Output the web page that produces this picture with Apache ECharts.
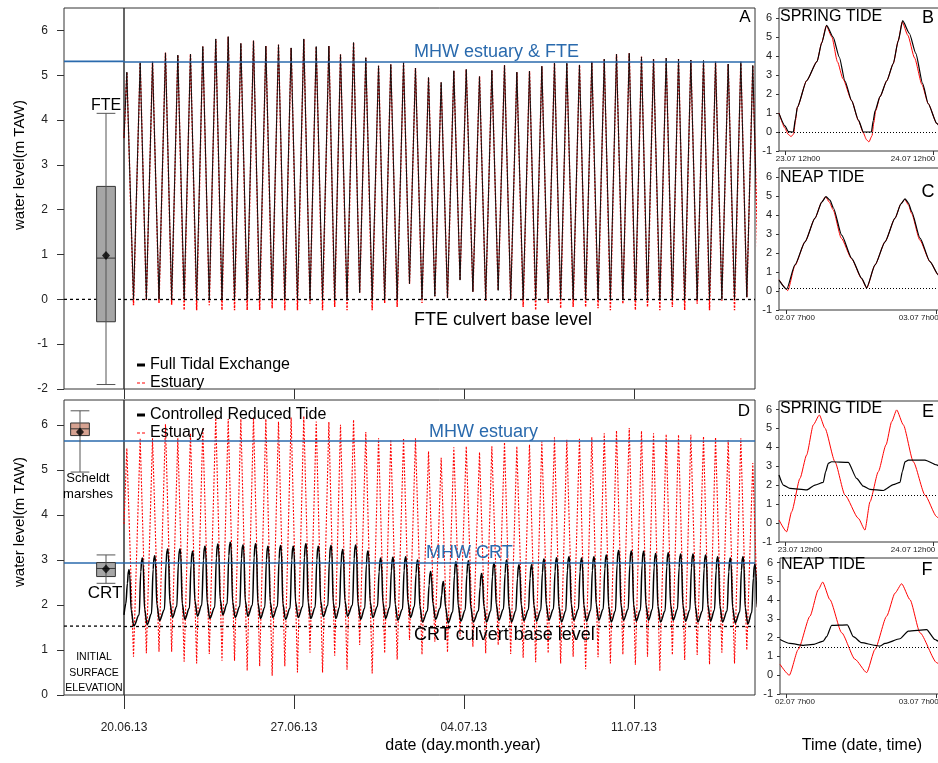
<!DOCTYPE html>
<html>
<head>
<meta charset="utf-8">
<script src="https://cdn.jsdelivr.net/npm/echarts@6.0.0/dist/echarts.min.js"></script>
<style>html,body{margin:0;padding:0;background:#fff;}#chart{width:938px;height:763px;}</style>
</head>
<body>
<div id="chart"></div>
<script>
// ---------------- DATA ----------------
// hours since 20.06.13 00:00 of each estuary high water
const hwHours = [2.8,16.0,28.2,41.0,53.2,65.7,77.9,90.7,103.0,115.5,128.0,140.2,152.7,165.2,177.7,190.0,202.5,214.0,226.9,239.0,251.6,263.7,276.3,288.1,301.0,313.5,326.0,338.3,351.4,363.6,376.1,388.3,400.8,413.0,425.5,437.7,450.2,462.4,474.7,486.8,499.4,511.5,523.4,535.9,548.1,560.3,572.8,584.7,597.2,609.7,621.5];
// panel A: high water (FTE & estuary), low water FTE, low water estuary
const fteHigh = [5.07,5.28,5.30,5.50,5.45,5.47,5.64,5.81,5.86,5.71,5.77,5.65,5.68,5.61,5.81,5.64,5.65,5.46,5.73,5.39,5.21,5.24,5.28,5.16,4.95,4.84,5.10,5.13,4.97,5.11,5.22,5.07,5.09,5.20,5.27,5.27,5.23,5.30,5.36,5.47,5.49,5.41,5.36,5.38,5.36,5.34,5.33,5.30,5.25,5.30,5.22];
const fteLow = [0,0,0,0,0,0,0,0,0,0, 0,0,0,0,0,0,0,0,0.15,0, 0,0,0.35,0,0.07,0.03,0.43,0.17,0,0.2, 0,0,0,0,0,0,0,0,0,0, 0,0,0,0,0,0,0,0,0,0.05, 0];
const estLowA = [-0.13,-0.03,-0.08,-0.12,-0.24,-0.24,-0.13,-0.24,-0.24,-0.24, -0.24,-0.2,-0.24,-0.24,-0.1,-0.24,-0.17,-0.24,0.15,-0.24, -0.08,-0.17,0.35,-0.08,0.07,0.03,0.43,0.17,-0.03,0.2, 0.0,-0.17,-0.24,-0.08,-0.2,-0.17,-0.17,-0.2,-0.24,-0.1, -0.24,-0.17,-0.24,-0.17,-0.24,-0.1,-0.24,-0.03,-0.24,0.05, 0];
const startLevelA = 3.6;
// panel D: estuary high / low water, CRT high / low
const estHighD = [5.48,5.70,5.70,6.01,5.70,5.81,5.93,6.19,6.13,6.13, 6.16,6.13,6.07,6.16,6.19,6.07,6.06,6.00,6.11,5.84, 5.70,5.67,5.70,5.70,5.41,5.27,5.50,5.52,5.39,5.52, 5.61,5.52,5.56,5.63,5.72,5.67,5.69,5.72,5.81,5.87, 5.93,5.86,5.81,5.79,5.78,5.78,5.74,5.72,5.66,5.70, 5.15];
const estLowD = [0.85,0.93,0.96,0.96,0.74,0.70,0.91,0.76,0.76,0.54, 0.64,0.43,0.64,0.50,0.94,0.50,0.87,0.56,1.11,0.48, 0.93,0.79,1.22,0.90,1.18,0.95,1.30,1.07,0.93,1.11, 0.91,0.83,0.73,0.93,0.70,0.85,0.57,0.84,0.70,0.90, 0.67,0.85,0.54,0.89,0.78,0.89,0.68,0.94,0.70,1.0, 0.8];
const startLevelD = 3.8;
const crtHigh = [2.78,3.04,3.09,3.24,3.24,3.19,3.30,3.35,3.39,3.33, 3.36,3.30,3.32,3.30,3.36,3.30,3.32,3.23,3.33,3.20, 3.04,3.06,3.07,3.00,2.74,2.52,2.96,2.98,2.70,2.93, 3.00,2.89,2.89,3.02,3.05,3.07,3.04,3.07,3.11,3.21, 3.20,3.19,3.14,3.16,3.13,3.13,3.11,3.07,3.04,3.07, 2.9];
const crtLow = [1.53,1.56,1.65,1.72,1.68,1.75,1.70,1.78,1.72,1.75, 1.70,1.72,1.68,1.72,1.70,1.74,1.70,1.75,1.68,1.72, 1.70,1.66,1.72,1.62,1.68,1.60,1.64,1.62,1.62,1.66, 1.62,1.65,1.64,1.66,1.62,1.66,1.64,1.66,1.62,1.66, 1.64,1.66,1.62,1.66,1.64,1.62,1.64,1.62,1.60,1.58, 1.6];
const startLevelCRT = 1.78;
// reference levels
const mhwFTE = 5.31, fteBase = 0, mhwEst = 5.64, mhwCRT = 2.93, crtBase = 1.53;
// box plots: [slot, min, q1, median, q3, max]
const boxFTE = [[1, -1.9, -0.5, 0.92, 2.52, 4.15]];
const meanFTE = [[1, 0.98]];
const boxD = [[0, 4.95, 5.76, 5.91, 6.04, 6.31], [1, 2.48, 2.63, 2.81, 2.94, 3.11]];
const meanD = [[0, 5.84], [1, 2.80]];
const boxSlots = ['s1', 's2'];
// tick labels
const mainTickHours = [0, 168, 336, 504];
const mainTickLabels = ['20.06.13', '27.06.13', '04.07.13', '11.07.13'];
const ticksA = [-2,-1,0,1,2,3,4,5,6];
const ticksD = [0,1,2,3,4,5,6];
const subTicks = [-1,0,1,2,3,4,5,6];
const subTickHours = [0, 24];
const springLabels = ['23.07 12h00', '24.07 12h00'];
const neapLabels = ['02.07 7h00', '03.07 7h00'];
// inset B: spring tide, FTE (black) & estuary (red); hours since 23.07 12:00
const springFTE = [[-0.97,0.98],[0.0,0.32],[0.54,0.02],[1.35,0.0],[1.7,0.7],[2.0,1.3],[3.5,2.7],[5.2,3.72],[5.95,4.7],[6.75,5.62],[7.8,5.0],[8.8,3.95],[9.7,2.7],[10.8,1.65],[11.9,0.63],[12.7,0.0],[14.0,0.0],[14.3,0.6],[14.6,1.12],[15.4,1.86],[16.5,2.7],[17.55,3.6],[18.35,4.8],[19.07,5.86],[20.15,5.2],[21.2,4.14],[22.3,2.56],[23.2,1.5],[24.6,0.45],[25.2,0.2]];
const springEstA = [[-0.97,1.0],[0.0,0.2],[0.5,-0.12],[1.0,-0.24],[1.4,-0.1],[1.7,0.6],[2.0,1.3],[3.5,2.7],[5.2,3.72],[5.95,4.7],[6.7,5.6],[7.6,5.0],[8.5,3.7],[9.4,2.8],[10.8,1.65],[11.9,0.6],[12.7,-0.05],[13.2,-0.4],[13.6,-0.52],[14.1,-0.2],[14.4,0.5],[14.7,1.12],[15.4,1.86],[16.5,2.7],[17.55,3.6],[18.35,4.8],[19.0,5.8],[19.9,5.1],[21.0,3.9],[22.2,2.5],[23.2,1.5],[24.6,0.45],[25.2,0.2]];
// inset C: neap tide; hours since 02.07 7:00
const neapFTE = [[-1.11,0.58],[0.11,0.1],[1.43,1.38],[3.03,2.6],[4.62,3.85],[5.7,4.7],[6.37,4.99],[7.0,4.8],[7.54,4.4],[8.87,2.95],[10.46,1.73],[12.05,0.67],[12.85,0.18],[14.18,1.38],[15.77,2.6],[17.36,3.85],[18.3,4.6],[18.95,4.87],[19.5,4.65],[20.01,4.2],[21.34,2.8],[22.93,1.55],[24.26,0.85],[25.0,0.55]];
const neapEstA = [[-1.11,0.6],[0.3,0.03],[1.43,1.35],[3.03,2.6],[4.62,3.85],[5.7,4.7],[6.3,4.98],[6.9,4.7],[7.5,4.3],[8.8,2.8],[10.46,1.7],[12.05,0.65],[12.85,0.15],[14.18,1.38],[15.77,2.6],[17.36,3.85],[18.3,4.6],[18.9,4.85],[19.5,4.55],[20.0,4.1],[21.3,2.7],[22.93,1.55],[24.26,0.85],[25.0,0.55]];
// inset E: spring tide, CRT (black) & estuary (red)
const springEstD = [[-0.97,0.16],[0.27,-0.46],[1.08,0.6],[2.43,2.36],[3.51,3.6],[4.59,5.19],[5.57,5.71],[6.48,5.01],[8.1,3.24],[9.72,1.48],[11.89,0.25],[12.96,-0.37],[13.78,1.13],[15.13,2.72],[16.37,4.13],[17.29,5.36],[18.1,5.98],[19.18,5.19],[20.8,3.24],[22.69,1.48],[24.58,0.34],[25.2,0.1]];
const springCRT = [[-0.97,2.54],[-0.27,2.01],[0.81,1.83],[3.51,1.75],[4.86,2.01],[6.2,2.15],[6.59,2.72],[7.02,3.15],[7.56,3.24],[10.26,3.21],[11.61,2.36],[12.7,1.95],[13.78,1.78],[15.94,1.72],[17.56,2.03],[18.64,2.15],[19.02,2.72],[19.45,3.24],[19.99,3.33],[22.69,3.33],[24.58,3.07],[25.2,2.95]];
// inset F: neap tide, CRT (black) & estuary (red)
const neapEstD = [[-0.95,0.58],[0.53,0.0],[1.96,1.38],[3.82,3.14],[5.15,4.55],[5.84,4.96],[7.0,4.02],[8.87,2.26],[10.99,0.85],[12.85,0.14],[14.18,1.38],[16.03,3.14],[17.36,4.37],[18.42,4.87],[19.75,4.02],[21.34,2.26],[23.99,0.67],[25.0,0.3]];
const neapCRT = [[-0.95,1.9],[0.64,1.69],[2.76,1.59],[4.35,1.64],[5.94,1.82],[6.47,2.05],[7.27,2.65],[9.77,2.68],[10.73,2.05],[12.05,1.73],[14.18,1.59],[14.97,1.55],[15.77,1.69],[18.15,1.94],[19.48,2.35],[22.4,2.43],[23.73,1.9],[24.26,1.81],[25.0,1.75]];
const springBase = 0, neapBaseFTE = 0.15, springBaseCRT = 1.48, neapBaseCRT = 1.5;

// ---------------- build series points ----------------
const lwHours = hwHours.map((t, i) => i < hwHours.length - 1 ? (t + hwHours[i + 1]) / 2 : t + 6.2);
function zigzag(start, highs, lows) {
  const pts = [[0, start]];
  hwHours.forEach((t, i) => { pts.push([t, highs[i]]); pts.push([lwHours[i], lows[i]]); });
  return pts;
}
// shape of one controlled-reduced-tide cycle relative to estuary high water
const crtShape = [[-1.0, 'pre', 0.25], [0.6, 'H', -0.3], [1.5, 'H', -0.03], [2.2, 'H', 0], [2.9, 'H', -0.12], [4.3, 'L', 0.35], [6.9, 'L', 0]];
function crtCurve() {
  const pts = [[0, startLevelCRT]];
  hwHours.forEach((t, i) => {
    const base = { pre: i ? crtLow[i - 1] : startLevelCRT, H: crtHigh[i], L: crtLow[i] };
    crtShape.forEach(s => pts.push([t + s[0], base[s[1]] + s[2]]));
  });
  return pts;
}

const FONT = '"Liberation Sans", Arial, Helvetica, sans-serif';
const BLUE = '#2a6aad';
const RED = '#ff0000';
const AX = '#333';
const NOLINE = { show: false, onZero: false };

function grid(l, t, w, h, show) {
  return { left: l, top: t, width: w, height: h, show: !!show, borderColor: AX, borderWidth: 1, backgroundColor: 'transparent', containLabel: false, outerBoundsMode: 'none' };
}
function hiddenAxis(g, extra) { return Object.assign({ gridIndex: g, show: false, axisLine: NOLINE }, extra); }
function labelY(g, min, max, ticks, size, margin, len) {
  return { gridIndex: g, type: 'value', min: min, max: max,
    axisLine: NOLINE, splitLine: { show: false },
    axisTick: { show: true, length: len, customValues: ticks, lineStyle: { color: AX } },
    axisLabel: { customValues: ticks, margin: margin, fontSize: size, color: '#222', fontFamily: FONT } };
}
// inset time labels sit slightly inside the panel (first shifted right, last shifted left)
function subX(g, min, max, labels, padFirst, padLast) {
  const rich = {
    f: { fontSize: 8, color: '#222', fontFamily: FONT, padding: [0, 0, 0, padFirst] },
    l: { fontSize: 8, color: '#222', fontFamily: FONT, padding: [0, padLast, 0, 0] }
  };
  return { gridIndex: g, type: 'value', min: min, max: max,
    axisLine: NOLINE, splitLine: { show: false },
    axisTick: { show: true, length: 4, customValues: subTickHours, lineStyle: { color: AX } },
    axisLabel: { customValues: subTickHours, rich: rich, margin: 4, fontSize: 8, color: '#222', fontFamily: FONT,
      formatter: v => { const i = subTickHours.indexOf(v); return (i === 0 ? '{f|' : '{l|') + labels[i] + '}'; } } };
}
function hline(v, color, type, width) {
  return { yAxis: v, lineStyle: { color: color, type: type, width: width } };
}
function marks(lines) {
  return { silent: true, symbol: 'none', label: { show: false }, z: 10, data: lines };
}
function flat(g, v, color, type, width) {
  return { type: 'line', xAxisIndex: g, yAxisIndex: g, data: [[0, v], [1, v]], symbol: 'none', silent: true,
    lineStyle: { color: color, type: type, width: width }, z: 5 };
}
function renderBox(params, api) {
  const c = api.value(0);
  const pMin = api.coord([c, api.value(1)]);
  const pQ1 = api.coord([c, api.value(2)]);
  const pMed = api.coord([c, api.value(3)]);
  const pQ3 = api.coord([c, api.value(4)]);
  const pMax = api.coord([c, api.value(5)]);
  const w = api.size([1, 0])[0] * 0.72;
  const x = pMin[0];
  const fill = api.visual('color');
  const ls = { stroke: '#555', lineWidth: 1 };
  return { type: 'group', children: [
    { type: 'rect', shape: { x: x - w / 2, y: pQ3[1], width: w, height: pQ1[1] - pQ3[1] }, style: { fill: fill, stroke: '#333', lineWidth: 1 } },
    { type: 'line', shape: { x1: x, y1: pMax[1], x2: x, y2: pMin[1] }, style: ls },
    { type: 'line', shape: { x1: x - w / 2, y1: pMax[1], x2: x + w / 2, y2: pMax[1] }, style: ls },
    { type: 'line', shape: { x1: x - w / 2, y1: pMin[1], x2: x + w / 2, y2: pMin[1] }, style: ls },
    { type: 'line', shape: { x1: x - w / 2, y1: pMed[1], x2: x + w / 2, y2: pMed[1] }, style: { stroke: '#333', lineWidth: 1 } }
  ] };
}
function txt(x, y, text, size, color, align, extra) {
  return Object.assign({ type: 'text', x: x, y: y, z: 50, silent: true,
    style: { text: text, font: size + 'px ' + FONT, fill: color || '#000', textAlign: align || 'left', align: align || 'left', textVerticalAlign: 'middle', verticalAlign: 'middle' } }, extra || {});
}

const DASH_ICON = 'path://M0,0H3V1H0Z M5,0H8V1H5Z';
const legendText = { fontSize: 16, color: '#000', fontFamily: FONT, lineHeight: 16 };

const option = {
  animation: false,
  backgroundColor: '#fff',
  textStyle: { fontFamily: FONT },
  grid: [
    grid(64, 8, 60, 381, true),    // 0 A frame
    grid(67, 8, 52, 381, false),   // 1 A boxes
    grid(124, 8, 631, 381, true),  // 2 A main
    grid(64, 400, 60, 295, true),  // 3 D frame
    grid(67, 400, 52, 295, false), // 4 D boxes
    grid(124, 400, 631, 295, true),// 5 D main
    grid(779, 8, 165, 143, true),  // 6 B
    grid(779, 168, 165, 142, true),// 7 C
    grid(779, 401, 165, 141, true),// 8 E
    grid(780, 558, 165, 136, true) // 9 F
  ],
  xAxis: [
    hiddenAxis(0, { type: 'value', min: 0, max: 1 }),
    hiddenAxis(1, { type: 'category', data: boxSlots }),
    { gridIndex: 2, type: 'value', min: 0, max: 623.7, axisLine: NOLINE, splitLine: { show: false },
      axisTick: { show: true, length: 10, customValues: mainTickHours, lineStyle: { color: AX } }, axisLabel: { show: false } },
    hiddenAxis(3, { type: 'value', min: 0, max: 1 }),
    hiddenAxis(4, { type: 'category', data: boxSlots }),
    { gridIndex: 5, type: 'value', min: 0, max: 623.7, axisLine: NOLINE, splitLine: { show: false },
      axisTick: { show: true, length: 14, customValues: mainTickHours, lineStyle: { color: AX } },
      axisLabel: { customValues: mainTickHours, formatter: v => mainTickLabels[mainTickHours.indexOf(v)], margin: 27, fontSize: 12, color: '#222', fontFamily: FONT } },
    subX(6, -0.97, 25.77, springLabels, 26, 40),
    subX(7, -1.11, 25.16, neapLabels, 18, 36),
    subX(8, -0.97, 25.77, springLabels, 30, 40),
    subX(9, -0.95, 25.32, neapLabels, 18, 36)
  ],
  yAxis: [
    labelY(0, -2, 6.5, ticksA, 12, 16, 7),
    hiddenAxis(1, { type: 'value', min: -2, max: 6.5 }),
    hiddenAxis(2, { type: 'value', min: -2, max: 6.5 }),
    labelY(3, 0, 6.55, ticksD, 12, 16, 7),
    hiddenAxis(4, { type: 'value', min: 0, max: 6.55 }),
    hiddenAxis(5, { type: 'value', min: 0, max: 6.55 }),
    labelY(6, -1, 6.53, subTicks, 11, 7, 3),
    labelY(7, -1, 6.5, subTicks, 11, 7, 3),
    labelY(8, -1, 6.45, subTicks, 11, 7, 3),
    labelY(9, -1, 6.24, subTicks, 11, 7, 3)
  ],
  legend: [
    { left: 132, top: 352, orient: 'vertical', itemGap: 2, itemWidth: 8, itemHeight: 3, selectedMode: false, textStyle: legendText,
      data: [{ name: 'Full Tidal Exchange', icon: 'rect' }, { name: 'Estuary', icon: DASH_ICON }] },
    { left: 132, top: 402, orient: 'vertical', itemGap: 2, itemWidth: 8, itemHeight: 3, selectedMode: false, textStyle: legendText,
      data: [{ name: 'Controlled Reduced Tide', icon: 'rect' }, { name: 'Estuary', icon: DASH_ICON }] }
  ],
  series: [
    // A frame reference lines
    flat(0, mhwFTE, BLUE, 'solid', 1.6),
    flat(0, fteBase, '#000', [3, 3], 1.3),
    // A box plot
    { type: 'custom', xAxisIndex: 1, yAxisIndex: 1, renderItem: renderBox, encode: { x: 0, y: [1, 2, 3, 4, 5] },
      data: boxFTE.map(v => ({ value: v, itemStyle: { color: '#a6a6a6' } })), z: 6 },
    { type: 'scatter', xAxisIndex: 1, yAxisIndex: 1, data: meanFTE, symbol: 'diamond', symbolSize: [8, 9], itemStyle: { color: '#000' }, z: 7 },
    // A main (estuary underneath, FTE on top)
    { name: 'Estuary', type: 'line', xAxisIndex: 2, yAxisIndex: 2, data: zigzag(startLevelA, fteHigh, estLowA),
      symbol: 'none', lineStyle: { color: RED, width: 1.4, type: [2, 1.5] }, itemStyle: { color: RED }, z: 3 },
    { name: 'Full Tidal Exchange', type: 'line', xAxisIndex: 2, yAxisIndex: 2, data: zigzag(startLevelA, fteHigh, fteLow),
      symbol: 'none', lineStyle: { color: '#111', width: 1.0 }, itemStyle: { color: '#000' }, z: 4,
      markLine: marks([hline(mhwFTE, BLUE, 'solid', 1.6), hline(fteBase, '#000', [3, 3], 1.3)]) },
    // D frame reference lines
    flat(3, mhwEst, BLUE, 'solid', 1.6),
    flat(3, mhwCRT, BLUE, 'solid', 1.6),
    flat(3, crtBase, '#000', [3, 3], 1.3),
    // D box plots
    { type: 'custom', xAxisIndex: 4, yAxisIndex: 4, renderItem: renderBox, encode: { x: 0, y: [1, 2, 3, 4, 5] },
      data: boxD.map((v, i) => ({ value: v, itemStyle: { color: i === 0 ? '#d6a291' : '#a6a6a6' } })), z: 6 },
    { type: 'scatter', xAxisIndex: 4, yAxisIndex: 4, data: meanD, symbol: 'diamond', symbolSize: [8, 9], itemStyle: { color: '#000' }, z: 7 },
    // D main
    { name: 'Estuary', type: 'line', xAxisIndex: 5, yAxisIndex: 5, data: zigzag(startLevelD, estHighD, estLowD),
      symbol: 'none', lineStyle: { color: RED, width: 1.1, type: [2, 1.5] }, itemStyle: { color: RED }, z: 3 },
    { name: 'Controlled Reduced Tide', type: 'line', xAxisIndex: 5, yAxisIndex: 5, data: crtCurve(),
      symbol: 'none', smooth: 0.35, smoothMonotone: 'x', lineStyle: { color: '#000', width: 1.5 }, itemStyle: { color: '#000' }, z: 4,
      markLine: marks([hline(mhwEst, BLUE, 'solid', 1.6), hline(mhwCRT, BLUE, 'solid', 1.6), hline(crtBase, '#000', [3, 3], 1.3)]) },
    // B
    { name: 'B estuary', type: 'line', xAxisIndex: 6, yAxisIndex: 6, data: springEstA, symbol: 'none', smooth: 0.2, smoothMonotone: 'x',
      lineStyle: { color: RED, width: 1 }, z: 3, markLine: marks([hline(springBase, '#000', [1, 2], 1)]) },
    { name: 'B fte', type: 'line', xAxisIndex: 6, yAxisIndex: 6, data: springFTE, symbol: 'none', smooth: 0.2, smoothMonotone: 'x',
      lineStyle: { color: '#000', width: 1.2 }, z: 4 },
    // C
    { name: 'C estuary', type: 'line', xAxisIndex: 7, yAxisIndex: 7, data: neapEstA, symbol: 'none', smooth: 0.2, smoothMonotone: 'x',
      lineStyle: { color: RED, width: 1 }, z: 3, markLine: marks([hline(neapBaseFTE, '#000', [1, 2], 1)]) },
    { name: 'C fte', type: 'line', xAxisIndex: 7, yAxisIndex: 7, data: neapFTE, symbol: 'none', smooth: 0.2, smoothMonotone: 'x',
      lineStyle: { color: '#000', width: 1.2 }, z: 4 },
    // E
    { name: 'E estuary', type: 'line', xAxisIndex: 8, yAxisIndex: 8, data: springEstD, symbol: 'none', smooth: 0.2, smoothMonotone: 'x',
      lineStyle: { color: RED, width: 1 }, z: 3, markLine: marks([hline(springBaseCRT, '#000', [1, 2], 1)]) },
    { name: 'E crt', type: 'line', xAxisIndex: 8, yAxisIndex: 8, data: springCRT, symbol: 'none', smooth: 0.2, smoothMonotone: 'x',
      lineStyle: { color: '#000', width: 1.2 }, z: 4 },
    // F
    { name: 'F estuary', type: 'line', xAxisIndex: 9, yAxisIndex: 9, data: neapEstD, symbol: 'none', smooth: 0.2, smoothMonotone: 'x',
      lineStyle: { color: RED, width: 1 }, z: 3, markLine: marks([hline(neapBaseCRT, '#000', [1, 2], 1)]) },
    { name: 'F crt', type: 'line', xAxisIndex: 9, yAxisIndex: 9, data: neapCRT, symbol: 'none', smooth: 0.2, smoothMonotone: 'x',
      lineStyle: { color: '#000', width: 1.2 }, z: 4 }
  ],
  graphic: [
    txt(20, 165, 'water level(m TAW)', 15, '#000', 'center', { rotation: Math.PI / 2 }),
    txt(20, 522, 'water level(m TAW)', 15, '#000', 'center', { rotation: Math.PI / 2 }),
    txt(106, 106, 'FTE', 16, '#000', 'center'),
    txt(88, 478, 'Scheldt', 13, '#000', 'center'),
    txt(88, 494, 'marshes', 13, '#000', 'center'),
    txt(105, 593, 'CRT', 17, '#000', 'center'),
    txt(94, 657, 'INITIAL', 10.5, '#000', 'center'),
    txt(94, 673, 'SURFACE', 10.5, '#000', 'center'),
    txt(94, 688, 'ELEVATION', 10.5, '#000', 'center'),
    txt(745, 17, 'A', 17, '#000', 'center'),
    txt(744, 411, 'D', 17, '#000', 'center'),
    txt(414, 52, 'MHW estuary & FTE', 18, BLUE),
    txt(414, 320, 'FTE culvert base level', 18, '#000'),
    txt(429, 432, 'MHW estuary', 18, BLUE),
    txt(426, 553, 'MHW CRT', 18, BLUE),
    txt(414, 635, 'CRT culvert base level', 18, '#000'),
    txt(780, 17, 'SPRING TIDE', 16, '#000'),
    txt(928, 18, 'B', 18, '#000', 'center'),
    txt(780, 178, 'NEAP TIDE', 16, '#000'),
    txt(928, 192, 'C', 18, '#000', 'center'),
    txt(780, 409, 'SPRING TIDE', 16, '#000'),
    txt(928, 412, 'E', 18, '#000', 'center'),
    txt(781, 565, 'NEAP TIDE', 16, '#000'),
    txt(927, 570, 'F', 18, '#000', 'center'),
    txt(463, 746, 'date (day.month.year)', 16, '#000', 'center'),
    txt(862, 746, 'Time (date, time)', 16, '#000', 'center')
  ]
};

const chart = echarts.init(document.getElementById('chart'), null, { renderer: 'canvas', width: 938, height: 763 });
chart.setOption(option);
</script>
</body>
</html>
